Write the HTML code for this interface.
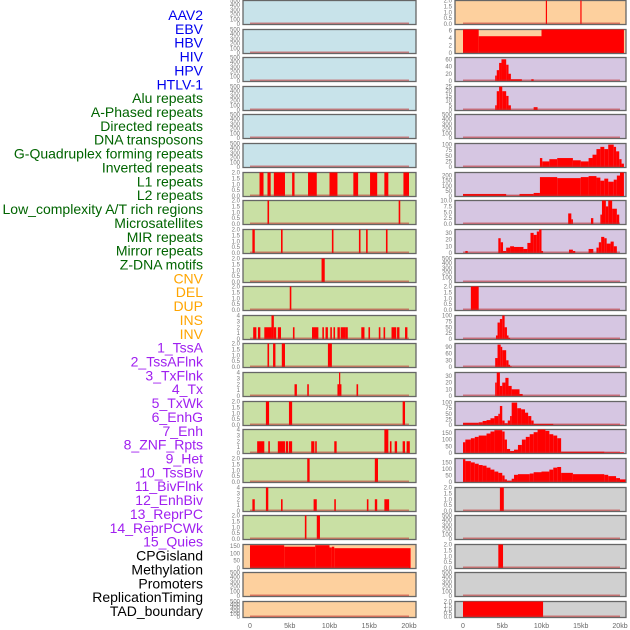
<!DOCTYPE html>
<html><head><meta charset="utf-8">
<style>
body{margin:0;background:#fff;}
svg{display:block;font-family:"Liberation Sans",sans-serif;}
</style></head>
<body>
<svg id="chart" width="630" height="630" viewBox="0 0 630 630"></svg>
<script>
const labels=["AAV2","EBV","HBV","HIV","HPV","HTLV-1","Alu repeats","A-Phased repeats","Directed repeats","DNA transposons","G-Quadruplex forming repeats","Inverted repeats","L1 repeats","L2 repeats","Low_complexity A/T rich regions","Microsatellites","MIR repeats","Mirror repeats","Z-DNA motifs","CNV","DEL","DUP","INS","INV","1_TssA","2_TssAFlnk","3_TxFlnk","4_Tx","5_TxWk","6_EnhG","7_Enh","8_ZNF_Rpts","9_Het","10_TssBiv","11_BivFlnk","12_EnhBiv","13_ReprPC","14_ReprPCWk","15_Quies","CPGisland","Methylation","Promoters","ReplicationTiming","TAD_boundary"];
const labelGroups=[6,13,5,15,5];
const groupColors=["#0000ee","#006400","#ffa500","#a020f0","#000000"];
const xTicks=[0,5,10,15,20];
const xTickLabels=["0","5kb","10kb","15kb","20kb"];
const T500=[0,100,200,300,400,500],T2=[0,0.5,1,1.5,2],T4=[0,1,2,3,4];
const midYmax=[500,500,500,500,500,500,2,2,2,2,2,4,2,4,2,4,2,4,2,160,500,500];
const midTicks=[T500,T500,T500,T500,T500,T500,T2,T2,T2,T2,T2,T4,T2,T4,T2,T4,T2,T4,T2,[0,50,100,150],T500,T500];
const midBg=["#c8e3ea","#c8e3ea","#c8e3ea","#c8e3ea","#c8e3ea","#c8e3ea","#c9e0a4","#c9e0a4","#c9e0a4","#c9e0a4","#c9e0a4","#c9e0a4","#c9e0a4","#c9e0a4","#c9e0a4","#c9e0a4","#c9e0a4","#c9e0a4","#c9e0a4","#fdd09e","#fdd09e","#fdd09e"];
const midData=[[],[],[],[],[],[],
[[1.2,1.7,2],[2.2,2.6,2],[3.0,4.4,2],[5.3,5.6,2],[7.3,8.4,2],[10,11,2],[13,13.6,2],[15.1,16,2],[16.9,17.4,2],[19.3,20,2]],
[[2.2,2.4,2],[18.7,18.9,2]],
[[0.3,0.6,2],[3.9,4.1,2],[10.3,10.5,2],[13.7,13.9,2],[14.6,14.8,2],[17.1,17.3,2]],
[[9.0,9.4,2]],
[[5.0,5.2,2]],
[[0.4,0.8,2],[1.0,1.3,2],[1.8,2.2,2],[2.2,2.7,2],[2.7,3.0,4],[3.0,3.3,2],[3.5,3.9,2],[5.4,5.6,2],[7.8,8.6,2],[9.1,9.3,2],[9.5,9.8,2],[10.1,10.3,2],[10.5,10.7,2],[11.0,11.3,2],[11.4,12.0,2],[12.0,12.3,2],[14.0,14.4,2],[14.9,15.1,2],[16.2,16.4,2],[16.8,17.0,2],[17.8,18.4,2],[18.5,18.8,2],[19.5,19.8,2]],
[[2.2,2.4,2],[2.9,3.2,2],[4.0,4.4,2],[9.8,10.3,2]],
[[5.6,5.9,2],[7.2,7.4,2],[11.0,11.2,2],[11.2,11.3,4],[11.3,11.5,2],[13.4,13.6,2]],
[[2.0,2.4,2],[4.9,5.3,2],[19.2,19.5,2]],
[[0.9,1.8,2],[2.3,2.5,2],[3.5,4.4,2],[4.5,4.8,2],[4.9,5.3,2],[7.7,8.1,2],[8.2,8.4,2],[10.6,10.9,2],[16.9,17.4,4],[17.6,17.8,2],[18.2,18.5,2],[19.2,19.5,2],[19.7,20.1,2]],
[[7.2,7.5,2],[15.7,16.1,2]],
[[0.3,0.6,2],[2.0,2.3,4],[3.9,4.1,2],[8.0,8.4,2],[10.6,10.8,2],[14.7,14.9,2],[15.7,16.0,2],[16.9,17.5,2]],
[[6.9,7.1,2],[8.4,8.8,2]],
[[0,4.3,155],[4.3,8.2,145],[8.2,10,155],[10,10.3,140],[10.3,10.6,145],[10.6,20.2,135]],
[],[]];
const PP="#d6c6e2",GR="#d0d0d0",OR="#fdd09e";
const rightBg=[OR,OR,PP,PP,PP,PP,PP,PP,PP,PP,PP,PP,PP,PP,PP,PP,PP,GR,GR,GR,GR,GR];
const rightYmax=[2,6.3,65,25,500,105,230,10,35,500,2,100,105,35,105,175,180,2,500,2,500,2];
const rightTicks=[T2,[0,2,4,6],[0,20,40,60],[0,5,10,15,20,25],T500,[0,25,50,75,100],[0,50,100,150,200],[0,2.5,5,7.5,10],[0,10,20,30],T500,T2,[0,25,50,75,100],[0,30,60,90],[0,10,20,30],[0,25,50,75,100],[0,50,100,150],[0,50,100,150],T2,T500,T2,T500,T2];
const rightData=[
[[10.55,10.7,2],[14.95,15.1,2]],
[[0,2,6.3],[2,10,4.5],[10,20.5,6.3]],
[[4.1,4.3,15],[4.3,4.6,30],[4.6,4.9,50],[4.9,5.5,60],[5.5,5.8,45],[5.8,6.1,20],[6.1,7.5,5],[8.7,9.0,5]],
[[4.1,4.3,5],[4.3,4.6,20],[4.6,5.0,25],[5.0,5.5,20],[5.5,5.8,15],[5.8,6.1,5],[9.0,9.5,3]],
[],
[[9.8,10.1,40],[10.1,11,25],[11,12,35],[12,14,40],[14,15,30],[15,16,25],[16,16.5,40],[16.5,17,55],[17,17.5,80],[17.5,18,90],[18,18.5,80],[18.5,19.2,100],[19.2,19.5,90],[19.5,19.9,70],[19.9,20.2,35],[20.2,20.5,15]],
[[0,5.5,20],[5.5,7.2,3],[7.2,9,20],[9,9.8,30],[9.8,12,185],[12,15,175],[15,16,185],[16,17,195],[17,17.5,180],[17.5,18,150],[18,18.5,170],[18.5,19.2,140],[19.2,19.6,160],[19.6,20,200],[20,20.5,230]],
[[13.4,13.8,4.5],[13.8,14,2],[16.3,16.6,2.5],[17.5,17.7,4],[17.7,18.2,10],[18.2,18.5,7.5],[18.5,19,10],[19,19.6,6.5],[19.6,19.9,4]],
[[0.3,0.6,3],[4.5,4.8,22],[4.8,5.1,16],[5.1,5.5,3],[5.5,6,8],[6,6.5,10],[6.5,7.2,9],[7.2,7.7,9],[7.7,8.2,6],[8.2,8.6,15],[8.6,9,30],[9,9.4,27],[9.4,9.7,32],[9.7,10,35],[10,10.2,3],[13.5,14,5],[14,14.3,3],[16,16.6,6],[17,17.3,8],[17.3,17.6,16],[17.6,18,24],[18,18.3,22],[18.3,18.8,14],[18.8,19.2,17],[19.2,19.6,10]],
[],
[[1.0,2.0,2]],
[[4.2,4.4,15],[4.4,4.7,70],[4.7,5.0,85],[5.0,5.3,100],[5.3,5.6,50],[5.6,5.8,15],[5.8,6.0,5]],
[[4.1,4.4,40],[4.4,4.8,100],[4.8,5.0,90],[5.0,5.5,75],[5.5,5.8,30],[5.8,6.0,10],[6.0,6.2,3]],
[[4.1,4.3,20],[4.3,4.7,35],[4.7,5.0,15],[5.0,5.4,20],[5.4,5.8,27],[5.8,6.2,15],[6.2,7.2,10],[7.2,7.6,3]],
[[0,2,10],[2,2.5,12],[2.5,3,18],[3,3.5,22],[3.5,4,30],[4,4.5,40],[4.5,4.7,50],[4.7,5,85],[5,5.3,20],[5.3,5.7,8],[5.7,6,20],[6,6.2,40],[6.2,6.9,100],[6.9,7.4,75],[7.4,7.9,70],[7.9,8.3,55],[8.3,8.7,40],[8.7,9,20],[9,11.5,5],[11.5,20.5,1]],
[[0,0.3,80],[0.3,1,100],[1,1.5,110],[1.5,2,120],[2,3,130],[3,3.5,145],[3.5,4,160],[4,5,170],[5,5.3,160],[5.3,5.6,100],[5.6,6,30],[6,6.5,15],[6.5,7,25],[7,7.5,60],[7.5,8,100],[8,8.5,120],[8.5,9,140],[9,9.5,155],[9.5,10.5,175],[10.5,11,165],[11,11.5,140],[11.5,12,130],[12,12.5,110],[12.5,18,10],[18,20.5,5]],
[[0,0.3,175],[0.3,1,160],[1,1.5,150],[1.5,2,140],[2,2.5,130],[2.5,3,125],[3,3.5,110],[3.5,4,95],[4,4.5,80],[4.5,5,70],[5,5.3,50],[5.3,5.6,20],[5.6,6.2,10],[6.2,6.5,25],[6.5,7,55],[7,8.5,60],[8.5,9,65],[9,10,75],[10,11,80],[11,11.5,95],[11.5,12,110],[12,12.5,115],[12.5,14,70],[14,18,60],[18,18.5,55],[18.5,19.5,45],[19.5,20,30],[20,20.7,20]],
[[4.7,5.2,2]],
[],
[[4.5,5.1,2]],
[],
[[0,10.2,2]]];

const NS="http://www.w3.org/2000/svg";
const svg=document.getElementById('chart');
function mk(tag,attrs,parent){const e=document.createElementNS(NS,tag);for(const k in attrs)e.setAttribute(k,attrs[k]);(parent||svg).appendChild(e);return e;}
let li=0;
labelGroups.forEach((n,g)=>{for(let j=0;j<n;j++){
 const t=mk('text',{x:203,y:20+li*13.86,'text-anchor':'end','font-size':'14',fill:groupColors[g]});
 t.textContent=labels[li];
 
 
 li++;}});
function rowTop(i){return Math.round(i*28.62);}
function rowH(i){return i===21?16:24;}
function drawCol(x0,x1,xz,x20,bgs,ymaxs,ticks,data,name){
 const xs=kb=>xz+kb*(x20-xz)/20;
 for(let i=0;i<22;i++){
  const top=rowTop(i),h=rowH(i),ymax=ymaxs[i];
  const g=mk('g',{});
  
  
  mk('rect',{x:x0,y:top+0.5,width:x1-x0,height:h,fill:bgs[i],stroke:'#666','stroke-width':1.3},g);
  const ys=v=>top+h-v/ymax*(h-0.5);
  data[i].forEach(d=>{
   const r=mk('rect',{x:xs(d[0]),y:ys(d[2]),width:Math.max(1.2,xs(d[1])-xs(d[0])),height:top+h-ys(d[2]),fill:'#ff0000'},g);
   
   
  });
  mk('rect',{x:xs(0),y:top+h-1.5,width:xs(20)-xs(0),height:1.5,fill:'#c03030',opacity:0.55},g);
  const dec=ticks[i].some(v=>v%1!==0);
  ticks[i].forEach(v=>{
   const t=mk('text',{x:x0-3,y:ys(v)+2,'text-anchor':'end','font-size':'6',fill:'#777'},g);
   t.textContent=dec?v.toFixed(1):String(v);
   
   
  });
 }
 xTicks.forEach((v,k)=>{
  const t=mk('text',{x:xs(v),y:628,'text-anchor':'middle','font-size':'7',fill:'#666'});
  t.textContent=xTickLabels[k];
  
  
 });
}
drawCol(243,416,250,409,midBg,midYmax,midTicks,midData,'middle');
drawCol(455,626,463,620,rightBg,rightYmax,rightTicks,rightData,'right');
</script>
</body></html>
